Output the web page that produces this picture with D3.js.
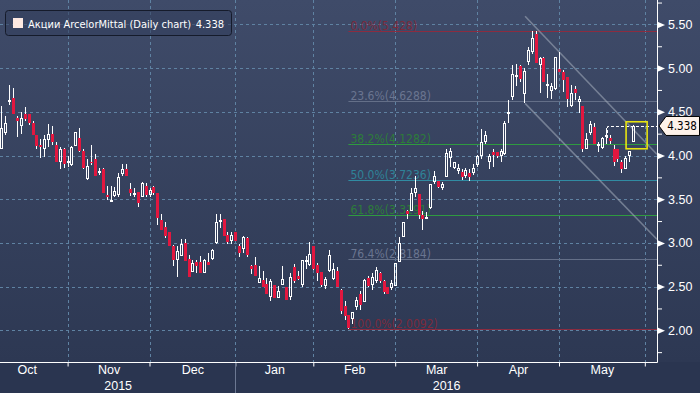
<!DOCTYPE html>
<html>
<head>
<meta charset="utf-8">
<script src="https://cdn.jsdelivr.net/npm/d3@7"></script>
<style>
  body { margin: 0; background: #2a3550; }
  svg { display: block; font-family: "DejaVu Sans Condensed", "DejaVu Sans", sans-serif; font-stretch: condensed; }
</style>
</head>
<body>
<svg></svg>
<script>
// daily OHLC, Oct 2015 - May 2016
var opens = [4.07,4.26,4.61,4.66,4.43,4.34,4.48,4.48,4.37,4.23,4.12,4.08,4.18,4.25,4.12,3.93,4.07,3.92,3.89,4.11,
  4.20,4.05,3.73,3.93,3.96,3.80,3.84,3.55,3.48,3.54,3.55,3.79,3.84,3.62,3.55,3.58,3.52,3.65,3.55,3.64,
  3.57,3.26,3.18,3.12,2.97,2.80,2.85,3.00,2.82,2.67,2.78,2.78,2.66,2.78,2.82,3.00,3.25,3.27,3.09,3.02,
  3.12,2.97,2.93,3.06,2.74,2.75,2.54,2.57,2.53,2.38,2.52,2.37,2.52,2.49,2.38,2.72,2.62,2.52,2.78,2.75,
  2.96,2.75,2.67,2.51,2.68,2.59,2.68,2.46,2.28,2.17,2.13,2.27,2.41,2.32,2.60,2.52,2.56,2.66,2.56,2.50,
  2.48,2.51,2.78,3.07,3.36,3.36,3.57,3.56,3.32,3.29,3.40,3.70,3.71,3.63,3.75,3.97,3.86,3.82,3.81,3.77,
  3.80,3.80,3.89,4.00,4.15,3.93,4.04,4.04,3.99,4.02,4.49,4.67,4.90,5.02,4.70,5.07,5.18,5.39,5.03,5.11,
  4.79,4.74,4.76,4.99,4.96,4.90,4.57,4.76,4.61,4.57,4.08,4.26,4.33,4.11,4.09,4.21,4.20,4.07,4.07,3.93,
  3.84,3.99,4.15]
var highs = [4.57,4.45,4.81,4.77,4.45,4.50,4.55,4.48,4.39,4.23,4.19,4.23,4.36,4.34,4.15,4.10,4.09,3.99,4.11,4.27,
  4.31,4.07,3.96,4.12,4.02,3.86,3.86,3.65,3.65,3.64,3.80,3.90,3.90,3.69,3.63,3.58,3.70,3.68,3.63,3.65,
  3.57,3.33,3.24,3.12,2.98,2.97,3.04,3.04,2.86,2.81,2.81,2.85,2.82,2.89,2.93,3.33,3.33,3.27,3.13,3.13,
  3.12,2.99,3.08,3.07,2.75,2.84,2.73,2.68,2.60,2.59,2.52,2.51,2.73,2.50,2.65,2.76,2.68,2.80,2.85,3.01,
  2.96,2.77,2.67,2.61,2.92,2.77,2.72,2.47,2.33,2.17,2.21,2.38,2.45,2.59,2.62,2.65,2.72,2.67,2.57,2.50,
  2.58,2.77,3.07,3.24,3.38,3.63,3.77,3.56,3.37,3.35,3.67,3.82,3.71,3.70,4.07,4.09,3.93,3.90,3.84,3.86,
  3.84,3.90,4.01,4.30,4.28,4.02,4.08,4.04,4.07,4.40,4.64,5.03,5.05,5.03,5.00,5.24,5.42,5.43,5.13,5.13,
  4.93,4.83,5.13,5.18,4.98,4.90,4.81,4.80,4.68,4.57,4.26,4.39,4.37,4.15,4.21,4.32,4.23,4.12,4.08,3.95,
  3.99,4.05,4.35]
var lows = [4.07,4.23,4.58,4.47,4.21,4.25,4.39,4.35,4.24,4.07,3.97,3.98,4.10,4.12,3.93,3.85,3.86,3.87,3.88,4.11,
  4.04,3.85,3.72,3.89,3.77,3.78,3.57,3.49,3.47,3.53,3.53,3.76,3.76,3.54,3.52,3.41,3.52,3.52,3.52,3.55,
  3.21,3.15,3.06,2.97,2.74,2.61,2.85,2.79,2.61,2.67,2.65,2.66,2.65,2.75,2.81,2.99,3.17,3.08,2.99,2.99,
  3.02,2.84,2.89,2.84,2.64,2.62,2.54,2.50,2.41,2.34,2.37,2.37,2.52,2.35,2.35,2.54,2.57,2.49,2.70,2.73,
  2.69,2.56,2.49,2.47,2.67,2.57,2.49,2.19,2.12,2.01,2.07,2.23,2.23,2.32,2.49,2.46,2.54,2.54,2.41,2.41,
  2.46,2.51,2.78,3.07,3.27,3.36,3.53,3.27,3.15,3.27,3.39,3.67,3.63,3.61,3.75,3.87,3.84,3.79,3.72,3.74,
  3.71,3.78,3.87,3.96,4.13,3.84,3.87,3.97,3.92,4.01,4.37,4.64,4.79,4.84,4.60,5.04,5.16,5.06,4.72,4.84,
  4.66,4.65,4.75,4.95,4.73,4.56,4.56,4.64,4.49,4.04,4.08,4.23,4.13,4.04,4.08,4.13,4.13,3.88,3.93,3.80,
  3.84,3.93,4.15]
var closes = [4.32,4.37,4.63,4.47,4.40,4.43,4.42,4.37,4.24,4.11,4.10,4.19,4.25,4.15,3.93,4.08,3.90,3.94,4.10,4.27,
  4.05,3.86,3.88,3.92,3.77,3.82,3.57,3.53,3.49,3.59,3.75,3.85,3.76,3.57,3.57,3.46,3.69,3.55,3.61,3.57,
  3.28,3.15,3.08,2.97,2.81,2.91,2.99,2.79,2.61,2.77,2.73,2.66,2.80,2.75,2.92,3.24,3.26,3.08,3.01,3.09,
  3.02,2.89,3.07,2.86,2.70,2.62,2.60,2.50,2.41,2.56,2.37,2.45,2.59,2.35,2.61,2.56,2.59,2.80,2.80,2.87,
  2.70,2.66,2.52,2.59,2.86,2.70,2.50,2.22,2.16,2.03,2.21,2.35,2.29,2.58,2.51,2.61,2.69,2.56,2.44,2.42,
  2.54,2.77,3.00,3.24,3.33,3.57,3.63,3.32,3.27,3.30,3.67,3.77,3.64,3.67,4.03,4.05,3.92,3.86,3.75,3.83,
  3.75,3.86,3.99,4.15,4.24,3.99,4.01,3.99,4.05,4.37,4.50,4.93,4.92,4.87,4.97,5.21,5.34,5.06,5.11,4.84,
  4.82,4.79,5.13,4.95,4.86,4.65,4.71,4.71,4.65,4.08,4.19,4.36,4.13,4.13,4.20,4.24,4.17,3.93,3.96,3.84,
  3.97,4.05,4.338]

// month starts as bar index, labels sit in the middle of each month
var monthNames = ['Oct', 'Nov', 'Dec', 'Jan', 'Feb', 'Mar', 'Apr', 'May']
var monthStarts = [-4, 17, 38, 60, 80, 101, 122, 143, 165]
var yearNames = ['2015', '2016']
var yearStarts = [-0.33, 60, 168.1]
var priceTicks = [2, 2.5, 3, 3.5, 4, 4.5, 5, 5.5]
var minorTicks = [1.75, 2.25, 2.75, 3.25, 3.75, 4.25, 4.75, 5.25, 5.75]

// fibonacci retracement, drawn from the low bar
var fibPct = ['0.0%', '23.6%', '38.2%', '50.0%', '61.8%', '76.4%', '100.0%']
var fibLevels = [5.428, 4.6288, 4.1282, 3.7236, 3.3191, 2.8184, 2.0092]
var fibColors = ['#8c2c40', '#646f88', '#2f9a40', '#318ca3', '#2f9a40', '#646f88', '#8c2c40']
var fibTextColors = ['#7c2a3c', '#6a7590', '#2d7c3a', '#2f8298', '#2d7c3a', '#6a7590', '#7c2a3c']
var fibStart = 89

// trend channel [bar, price]
var channelUpper = [[134.3, 5.593], [168.1, 4.014]]
var channelLower = [[134.3, 4.597], [168.1, 3.041]]

var lastPrice = 4.338
var lastLineBar = 155.3
var lastLineFrom = 4.20
var boxBars = [160.2, 165.6]
var boxPrices = [4.386, 4.077]

var width = 700
var height = 393
var plotRight = 657
var plotBottom = 362

var svg = d3.select("svg")
  .attr("width", width)
  .attr("height", height)

var x = d3.scaleLinear().domain([0, 165]).range([1.3, 644.8])
var y = d3.scaleLinear().domain([2, 5.5]).range([330.3, 24.4])

var defs = svg.append("defs")
var grad = defs.append("linearGradient")
  .attr("id", "bg").attr("x1", 0).attr("y1", 0).attr("x2", 0).attr("y2", 1)
grad.append("stop").attr("offset", "0%").attr("stop-color", "#3f4b69")
grad.append("stop").attr("offset", "100%").attr("stop-color", "#2d3853")
defs.append("clipPath").attr("id", "plot")
  .append("rect").attr("width", plotRight).attr("height", plotBottom)

svg.append("rect").attr("width", width).attr("height", height).attr("fill", "#2a3550")
svg.append("rect").attr("width", width).attr("height", plotBottom).attr("fill", "url(#bg)")

var g = svg.append("g").attr("clip-path", "url(#plot)")

// dashed grid
g.selectAll(".hgrid")
  .data(priceTicks)
  .enter().append("line")
  .attr("x1", 0).attr("x2", plotRight)
  .attr("y1", function (d) { return Math.round(y(d)) + 0.5 })
  .attr("y2", function (d) { return Math.round(y(d)) + 0.5 })
  .attr("stroke", "#5f82a2").attr("stroke-dasharray", "3,3")

g.selectAll(".vgrid")
  .data(monthStarts.slice(1))
  .enter().append("line")
  .attr("x1", function (d) { return Math.round(x(d)) + 0.5 })
  .attr("x2", function (d) { return Math.round(x(d)) + 0.5 })
  .attr("y1", 0).attr("y2", plotBottom)
  .attr("stroke", "#5f82a2").attr("stroke-dasharray", "3,3")

// fib levels
g.selectAll(".fib")
  .data(fibLevels)
  .enter().append("line")
  .attr("x1", x(fibStart)).attr("x2", plotRight)
  .attr("y1", function (d) { return Math.round(y(d)) + 0.5 })
  .attr("y2", function (d) { return Math.round(y(d)) + 0.5 })
  .attr("stroke", function (d, i) { return fibColors[i] })

g.selectAll(".fibText")
  .data(fibLevels)
  .enter().append("text")
  .attr("x", x(fibStart) + 2)
  .attr("y", function (d) { return Math.round(y(d)) - 1.5 })
  .attr("fill", function (d, i) { return fibTextColors[i] })
  .style("font-size", "12px")
  .text(function (d, i) { return fibPct[i] + "(" + d + ")" })

// channel
var line = d3.line()
  .x(function (d) { return x(d[0]) })
  .y(function (d) { return y(d[1]) })
g.selectAll(".channel")
  .data([channelUpper, channelLower])
  .enter().append("path")
  .attr("d", line)
  .attr("fill", "none")
  .attr("stroke", "#a6aebd").attr("stroke-opacity", 0.55).attr("stroke-width", 1.6)

// candles
var bars = d3.range(opens.length)
var cg = g.selectAll(".candle")
  .data(bars)
  .enter().append("g")

cg.each(function (i) {
  var el = d3.select(this)
  var cx = Math.round(x(i)) + 0.5
  var o = opens[i], c = closes[i]
  var top = Math.round(y(Math.max(o, c)))
  var bot = Math.round(y(Math.min(o, c)))
  var hi = Math.round(y(highs[i]))
  var lo = Math.round(y(lows[i]))
  if (bot - top < 1) bot = top + 1
  if (c >= o) {
    if (hi < top) el.append("line").attr("x1", cx).attr("x2", cx).attr("y1", hi).attr("y2", top).attr("stroke", "#fff")
    if (lo > bot) el.append("line").attr("x1", cx).attr("x2", cx).attr("y1", bot).attr("y2", lo).attr("stroke", "#fff")
    el.append("rect")
      .attr("x", cx - 1).attr("y", top + 0.5)
      .attr("width", 2).attr("height", Math.max(bot - top - 1, 1))
      .attr("fill", "none").attr("stroke", "#fff")
  } else {
    el.append("line").attr("x1", cx).attr("x2", cx).attr("y1", hi).attr("y2", lo).attr("stroke", "#fff")
    el.append("rect")
      .attr("x", cx - 1.5).attr("y", top)
      .attr("width", 3).attr("height", bot - top)
      .attr("fill", "#e2173f")
  }
})

// last price marker line and highlight box
var ly = Math.round(y(lastPrice)) + 0.5
g.append("path")
  .attr("d", "M" + (Math.round(x(lastLineBar)) + 0.5) + "," + y(lastLineFrom) +
    "V" + ly + "H" + plotRight)
  .attr("fill", "none").attr("stroke", "#fff").attr("stroke-dasharray", "3,2")

g.append("rect")
  .attr("x", x(boxBars[0])).attr("y", y(boxPrices[0]))
  .attr("width", x(boxBars[1]) - x(boxBars[0]))
  .attr("height", y(boxPrices[1]) - y(boxPrices[0]))
  .attr("fill", "none").attr("stroke", "#e8e410").attr("stroke-width", 1.6)

// right axis
var yAxis = svg.append("g")
  .attr("transform", "translate(" + plotRight + ",0)")
  .call(d3.axisRight(y).tickValues(priceTicks).tickSize(0).tickPadding(11)
    .tickFormat(d3.format(".2f")))
yAxis.select(".domain").remove()
yAxis.selectAll("text").attr("fill", "#fff").style("font-size", "12.5px")
yAxis.selectAll(".tick").append("path")
  .attr("d", "M0,-3.5L8,0L0,3.5Z").attr("fill", "#fff")

var yMinor = svg.append("g")
  .attr("transform", "translate(" + plotRight + ",0)")
  .call(d3.axisRight(y).tickValues(minorTicks).tickSize(5).tickFormat(""))
yMinor.select(".domain").remove()
yMinor.selectAll("line").attr("stroke", "#fff")

svg.append("line")
  .attr("x1", plotRight + 0.5).attr("x2", plotRight + 0.5)
  .attr("y1", 0).attr("y2", plotBottom + 0.5)
  .attr("stroke", "#fff")

// bottom axis: ticks at month starts, names in between
var xAxis = svg.append("g")
  .attr("transform", "translate(0," + (plotBottom + 0.5) + ")")
  .call(d3.axisBottom(x).tickValues(monthStarts.slice(1)).tickSize(4).tickFormat(""))
xAxis.select(".domain").attr("d", "M0,0H" + (plotRight + 0.5)).attr("stroke", "#fff")
xAxis.selectAll("line").attr("stroke", "#fff")

var mids = monthNames.map(function (m, i) { return (monthStarts[i] + monthStarts[i + 1]) / 2 })
var xLabels = svg.append("g")
  .attr("transform", "translate(0," + plotBottom + ")")
  .call(d3.axisBottom(x).tickValues(mids).tickSize(0).tickPadding(3)
    .tickFormat(function (d, i) { return monthNames[i] }))
xLabels.select(".domain").remove()
xLabels.selectAll("text").attr("fill", "#fff").style("font-size", "12.5px")

var ymids = yearNames.map(function (m, i) { return (yearStarts[i] + yearStarts[i + 1]) / 2 })
var yearLabels = svg.append("g")
  .attr("transform", "translate(0," + (plotBottom + 16) + ")")
  .call(d3.axisBottom(x).tickValues(ymids).tickSize(0).tickPadding(3)
    .tickFormat(function (d, i) { return yearNames[i] }))
yearLabels.select(".domain").remove()
yearLabels.selectAll("text").attr("fill", "#fff").style("font-size", "12.5px")

svg.append("line")
  .attr("x1", Math.round(x(yearStarts[1])) + 0.5).attr("x2", Math.round(x(yearStarts[1])) + 0.5)
  .attr("y1", plotBottom + 1).attr("y2", height)
  .attr("stroke", "#6c7892")

// price tag
var ty = y(lastPrice)
svg.append("path")
  .attr("d", "M" + (plotRight + 2) + "," + ty + "L666," + (ty - 9.5) + "H699.5V" + (ty + 9.5) + "H666Z")
  .attr("fill", "#fdf2ea").attr("stroke", "#000")
svg.append("text")
  .attr("x", 682).attr("y", ty + 4.5)
  .attr("text-anchor", "middle")
  .attr("fill", "#000").style("font-size", "11.5px")
  .text(d3.format(".3f")(lastPrice))

// legend
var legend = svg.append("g")
legend.append("rect")
  .attr("x", 5.5).attr("y", 10.5).attr("width", 226).attr("height", 25).attr("rx", 3)
  .attr("fill", "#34405d").attr("fill-opacity", 0.6).attr("stroke", "#151b2b")
legend.append("rect")
  .attr("x", 13).attr("y", 18).attr("width", 10).attr("height", 10)
  .attr("fill", "#fde9e2")
legend.append("text")
  .attr("x", 28).attr("y", 27.5).attr("fill", "#fff").style("font-size", "11px")
  .text("Акции ArcelorMittal (Daily chart)")
legend.append("text")
  .attr("x", 224).attr("y", 27.5).attr("fill", "#fff").style("font-size", "11px")
  .attr("text-anchor", "end")
  .text(d3.format(".3f")(lastPrice))
</script>
</body>
</html>
